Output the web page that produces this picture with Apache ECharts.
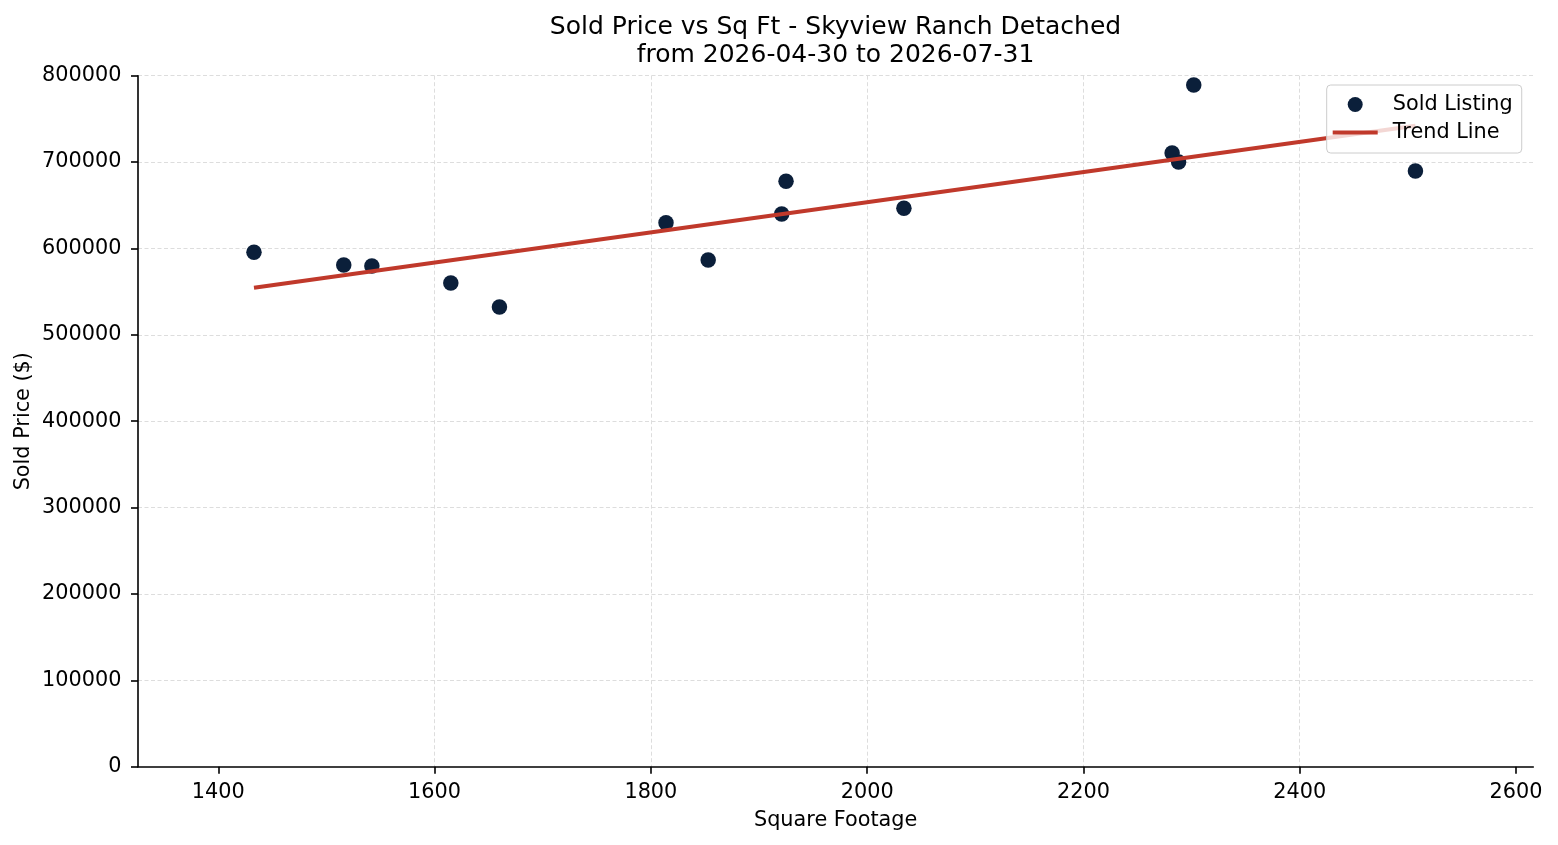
<!DOCTYPE html>
<html><head><meta charset="utf-8">
<script src="https://cdn.jsdelivr.net/npm/echarts@6/dist/echarts.min.js"></script>
<style>html,body{margin:0;padding:0;background:#fff}#c{width:1558px;height:845px}</style>
</head><body><div id="c"></div>
<script>
const titleLines = ['Sold Price vs Sq Ft - Skyview Ranch Detached', 'from 2026-04-30 to 2026-07-31'];
const xAxisName = 'Square Footage';
const yAxisName = 'Sold Price ($)';
const seriesNames = ['Sold Listing', 'Trend Line'];
const sqft = [1433, 1516, 1542, 1615, 1660, 1814, 1853, 1921, 1925, 2034, 2282, 2288, 2302, 2507];
const soldPrice = [595600, 580900, 579600, 560000, 532200, 629800, 586600, 639900, 677700, 646500, 710500, 700100, 789200, 689700];
const trendSqft = [1433, 2507];
const trendPrice = [554500, 742000];
const xTicks = [1400, 1600, 1800, 2000, 2200, 2400, 2600];
const yTicks = [0, 100000, 200000, 300000, 400000, 500000, 600000, 700000, 800000];

const FONT = 'DejaVu Sans';
const FS = 20.8;
const chart = echarts.init(document.getElementById('c'), null, {renderer: 'canvas'});
const axisLineStyle = {color: '#000', width: 1.6};
const gridLineStyle = {color: '#d9d9d9', width: 0.9, type: [4, 2.5]};
const plain = v => String(v);

chart.setOption({
  animation: false,
  backgroundColor: '#fff',
  title: {
    text: titleLines.join('\n'),
    left: 835.5, top: 13, textAlign: 'center', padding: 0,
    textStyle: {fontFamily: FONT, fontSize: 25, fontWeight: 'normal', color: '#000', lineHeight: 28}
  },
  legend: {
    orient: 'vertical', left: 1326.7, top: 85,
    padding: [9, 9, 10, 6], itemGap: 7, itemWidth: 45, itemHeight: 15,
    backgroundColor: 'rgba(255,255,255,0.8)', borderColor: '#cccccc', borderWidth: 1, borderRadius: 4,
    textStyle: {fontFamily: FONT, fontSize: FS, color: '#000', padding: [0, 0, 0, 10]},
    data: [
      {name: seriesNames[0], icon: 'circle'},
      {name: seriesNames[1], icon: 'path://M0,0L45,0L45,4L0,4Z'}
    ]
  },
  grid: {left: 138, right: 24.7, top: 75.7, bottom: 78.3, containLabel: false, outerBoundsMode: 'none'},
  xAxis: {
    type: 'value', min: 1325.75, max: 2616,
    name: xAxisName, nameLocation: 'middle', nameGap: 43.5, nameMoveOverlap: false,
    nameTextStyle: {fontFamily: FONT, fontSize: FS, color: '#000'},
    axisLine: {show: true, lineStyle: axisLineStyle},
    axisTick: {show: true, length: 7, lineStyle: axisLineStyle, customValues: xTicks},
    axisLabel: {fontFamily: FONT, fontSize: FS, color: '#000', margin: 15, customValues: xTicks, formatter: plain},
    splitLine: {show: true, lineStyle: gridLineStyle, showMinLine: false, showMaxLine: false}
  },
  yAxis: {
    type: 'value', min: yTicks[0], max: yTicks[yTicks.length - 1], interval: yTicks[1] - yTicks[0],
    name: yAxisName, nameLocation: 'middle', nameGap: 103.5, nameMoveOverlap: false,
    nameTextStyle: {fontFamily: FONT, fontSize: FS, color: '#000'},
    axisLine: {show: true, lineStyle: axisLineStyle},
    axisTick: {show: true, length: 7, lineStyle: axisLineStyle},
    axisLabel: {fontFamily: FONT, fontSize: FS, color: '#000', margin: 16.5, formatter: plain},
    splitLine: {show: true, lineStyle: gridLineStyle, showMinLine: false, showMaxLine: true}
  },
  series: [
    {
      name: seriesNames[0], type: 'scatter',
      data: sqft.map((x, i) => [x, soldPrice[i]]),
      symbolSize: 15.5,
      itemStyle: {color: '#0b1f3a', opacity: 1}
    },
    {
      name: seriesNames[1], type: 'line',
      data: trendSqft.map((x, i) => [x, trendPrice[i]]),
      symbol: 'none',
      lineStyle: {color: '#c0392b', width: 4},
      itemStyle: {color: '#c0392b'}
    }
  ]
});
</script></body></html>
